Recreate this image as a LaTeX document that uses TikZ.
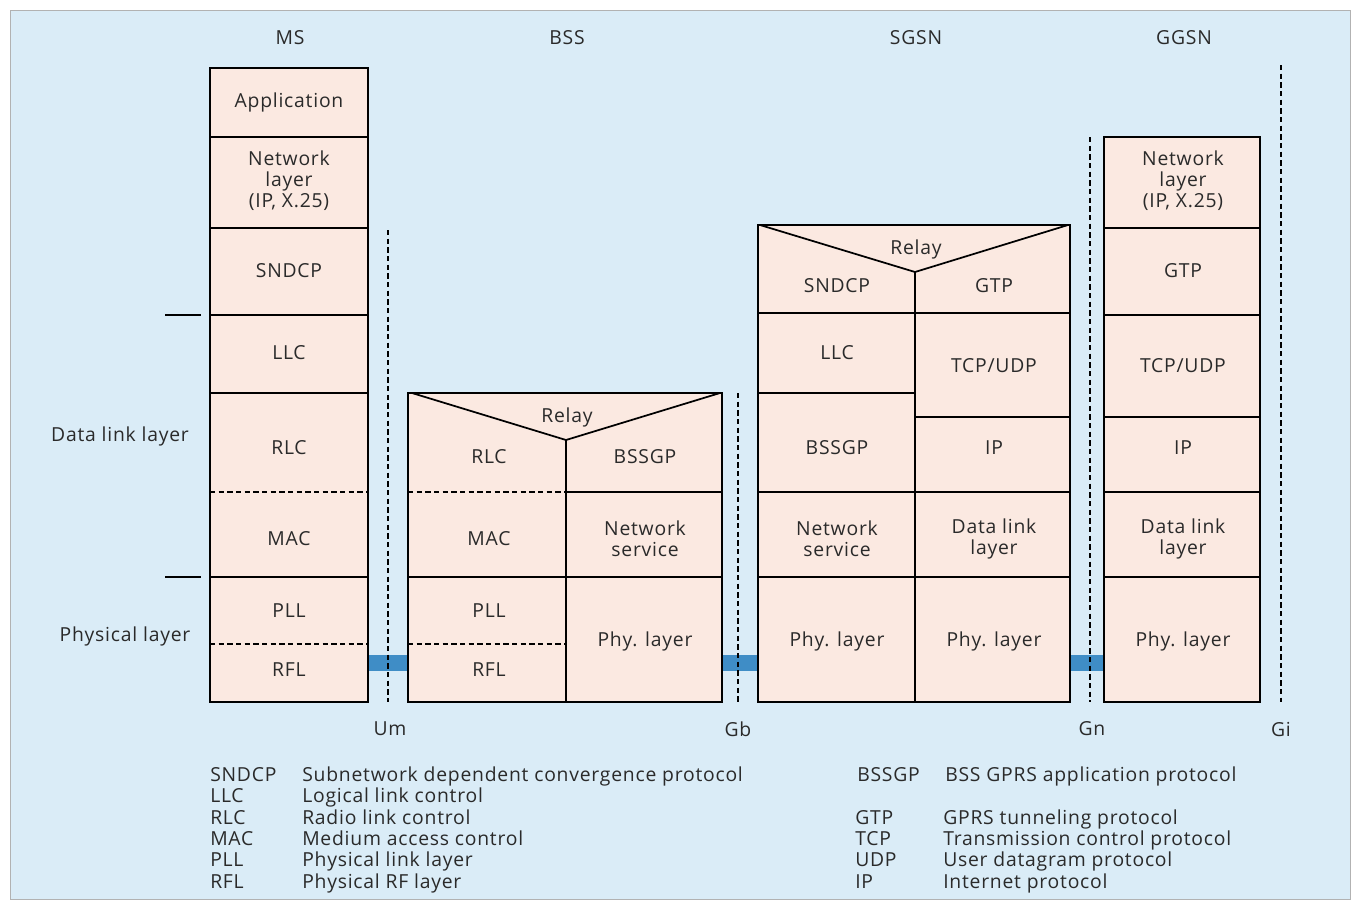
\documentclass[tikz,border=0pt]{standalone}
\usepackage{fontspec}
\setmainfont[LetterSpace=4]{Open Sans}
\definecolor{bg}{HTML}{DAECF7}
\definecolor{boxfill}{HTML}{FBE9E1}
\definecolor{txt}{HTML}{2A2A2A}
\definecolor{barblue}{HTML}{3F8DC6}
\begin{document}
\begin{tikzpicture}[x=0.75pt,y=-0.75pt]
\tikzset{
  lbl/.style={font=\fontsize{14.5}{15.75}\selectfont, text=txt, align=center, inner sep=0pt},
  leg/.style={font=\fontsize{14.5}{15}\selectfont, text=txt, anchor=base west, inner sep=0pt},
  stack/.style={fill=boxfill, draw=black, line width=1.3pt},
  sep/.style={draw=black, line width=1.3pt},
  dsep/.style={draw=black, line width=1.1pt, dash pattern=on 4pt off 2.5pt},
  iface/.style={draw=black, line width=1.1pt, dash pattern=on 4pt off 2.5pt},
  bar/.style={fill=barblue, draw=none},
}
\useasboundingbox (0,0) rectangle (1352,901);
\fill[white] (0,0) rectangle (1352,901);
\draw[fill=bg, draw=gray!60, line width=0.5pt] (10,10) rectangle (1350,899);

% headers
\node[lbl] (hMS) at (290,38) {MS};
\node[lbl] (hBSS) at (567,38) {BSS};
\node[lbl] (hSGSN) at (916,38) {SGSN};
\node[lbl] (hGGSN) at (1184,38) {GGSN};

% blue bars
\fill[bar] (368,655) rectangle (408,671);
\fill[bar] (722,655) rectangle (758,671);
\fill[bar] (1070,655) rectangle (1104,671);

% interfaces
\coordinate (umT) at (388,230); \coordinate (umB) at (388,702);
\coordinate (gbT) at (738,393); \coordinate (gbB) at (738,702);
\coordinate (gnT) at (1090,137); \coordinate (gnB) at (1090,702);
\coordinate (giT) at (1281,65); \coordinate (giB) at (1281,702);
\draw[iface] (umT) -- (umB);
\draw[iface] (gbT) -- (gbB);
\draw[iface] (gnT) -- (gnB);
\draw[iface] (giT) -- (giB);
\node[lbl] (lUm) at (390,729) {Um};
\node[lbl] (lGb) at (738,729) {Gb};
\node[lbl] (lGn) at (1092,729) {Gn};
\node[lbl] (lGi) at (1281,729) {Gi};

% left side labels
\coordinate (m1a) at (165,315); \coordinate (m1b) at (201,315);
\coordinate (m2a) at (165,577); \coordinate (m2b) at (201,577);
\draw[sep] (m1a) -- (m1b);
\draw[sep] (m2a) -- (m2b);
\node[lbl] (dll) at (120,436) {Data link layer};
\node[lbl] (phl) at (125,636) {Physical layer};

% ===== MS =====
\draw[stack] (210,68) rectangle (368,702);
\draw[sep] (210,137) -- (368,137);
\draw[sep] (210,228) -- (368,228);
\draw[sep] (210,315) -- (368,315);
\draw[sep] (210,393) -- (368,393);
\draw[dsep] (210,492) -- (368,492);
\draw[sep] (210,577) -- (368,577);
\draw[dsep] (210,644) -- (368,644);
\node[lbl] (msApp) at (289,102) {Application};
\node[lbl] (msNet) at (289,181) {Network\\layer\\(IP, X.25)};
\node[lbl] (msSnd) at (289,271) {SNDCP};
\node[lbl] (msLlc) at (289,353) {LLC};
\node[lbl] (msRlc) at (289,448) {RLC};
\node[lbl] (msMac) at (289,539) {MAC};
\node[lbl] (msPll) at (289,611) {PLL};
\node[lbl] (msRfl) at (289,670) {RFL};

% ===== BSS =====
\draw[stack] (408,393) rectangle (722,702);
\draw[sep] (412,393) -- (566,440) -- (720,393);
\draw[sep] (566,440) -- (566,702);
\draw[dsep] (408,492) -- (566,492);
\draw[sep] (566,492) -- (722,492);
\draw[sep] (408,577) -- (722,577);
\draw[dsep] (408,644) -- (566,644);
\node[lbl] (bRelay) at (567,417) {Relay};
\node[lbl] (bRlc) at (489,457) {RLC};
\node[lbl] (bBss) at (645,457) {BSSGP};
\node[lbl] (bMac) at (489,539) {MAC};
\node[lbl] (bNs) at (645,539) {Network\\service};
\node[lbl] (bPll) at (489,611) {PLL};
\node[lbl] (bRfl) at (489,670) {RFL};
\node[lbl] (bPhy) at (645,641) {Phy. layer};

% ===== SGSN =====
\draw[stack] (758,225) rectangle (1070,702);
\draw[sep] (760,225) -- (915,272) -- (1068,225);
\draw[sep] (915,272) -- (915,702);
\draw[sep] (758,313) -- (1070,313);
\draw[sep] (758,393) -- (915,393);
\draw[sep] (915,417) -- (1070,417);
\draw[sep] (758,492) -- (1070,492);
\draw[sep] (758,577) -- (1070,577);
\node[lbl] (sRelay) at (916,249) {Relay};
\node[lbl] (sSnd) at (837,286) {SNDCP};
\node[lbl] (sGtp) at (994,286) {GTP};
\node[lbl] (sLlc) at (837,353) {LLC};
\node[lbl] (sTcp) at (994,366) {TCP/UDP};
\node[lbl] (sBss) at (837,448) {BSSGP};
\node[lbl] (sIp) at (994,448) {IP};
\node[lbl] (sNs) at (837,539) {Network\\service};
\node[lbl] (sDl) at (994,539) {Data link\\layer};
\node[lbl] (sPhy1) at (837,641) {Phy. layer};
\node[lbl] (sPhy2) at (994,641) {Phy. layer};

% ===== GGSN =====
\draw[stack] (1104,137) rectangle (1260,702);
\draw[sep] (1104,228) -- (1260,228);
\draw[sep] (1104,315) -- (1260,315);
\draw[sep] (1104,417) -- (1260,417);
\draw[sep] (1104,492) -- (1260,492);
\draw[sep] (1104,577) -- (1260,577);
\node[lbl] (gNet) at (1183,181) {Network\\layer\\(IP, X.25)};
\node[lbl] (gGtp) at (1183,271) {GTP};
\node[lbl] (gTcp) at (1183,366) {TCP/UDP};
\node[lbl] (gIp) at (1183,448) {IP};
\node[lbl] (gDl) at (1183,539) {Data link\\layer};
\node[lbl] (gPhy) at (1183,641) {Phy. layer};

% ===== Legend =====
\node[leg] (a1) at (210,781) {SNDCP};
\node[leg] (d1) at (302,781) {Subnetwork dependent convergence protocol};
\node[leg] (a2) at (210,802) {LLC};
\node[leg] (d2) at (302,802) {Logical link control};
\node[leg] (a3) at (210,824) {RLC};
\node[leg] (d3) at (302,824) {Radio link control};
\node[leg] (a4) at (210,845) {MAC};
\node[leg] (d4) at (302,845) {Medium access control};
\node[leg] (a5) at (210,866) {PLL};
\node[leg] (d5) at (302,866) {Physical link layer};
\node[leg] (a6) at (210,888) {RFL};
\node[leg] (d6) at (302,888) {Physical RF layer};
\node[leg] (b1) at (857,781) {BSSGP};
\node[leg] (e1) at (945,781) {BSS GPRS application protocol};
\node[leg] (b2) at (855,824) {GTP};
\node[leg] (e2) at (943,824) {GPRS tunneling protocol};
\node[leg] (b3) at (855,845) {TCP};
\node[leg] (e3) at (943,845) {Transmission control protocol};
\node[leg] (b4) at (855,866) {UDP};
\node[leg] (e4) at (943,866) {User datagram protocol};
\node[leg] (b5) at (855,888) {IP};
\node[leg] (e5) at (943,888) {Internet protocol};
\end{tikzpicture}
\end{document}
